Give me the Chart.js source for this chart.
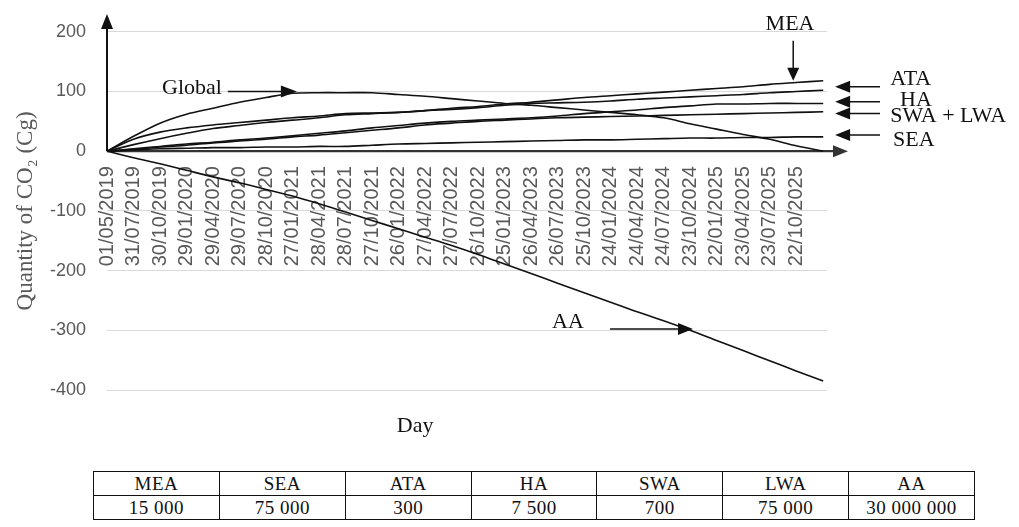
<!DOCTYPE html>
<html>
<head>
<meta charset="utf-8">
<script src="https://cdn.jsdelivr.net/npm/chart.js@4"></script>
<style>
  body { margin: 0; background: #fff; }
  #wrap { position: relative; width: 1019px; height: 527px; }
  #chartBox { position: absolute; left: 0; top: 0; width: 1019px; height: 460px; }
  #tbl {
    position: absolute; left: 93px; top: 471px; width: 882px;
    border-collapse: collapse; font-family: "Liberation Serif", serif;
    font-size: 19px; color: #111;
  }
  #tbl td {
    border: 1px solid #111; text-align: center; height: 23px;
    padding: 0; width: 126px; letter-spacing: 0.5px;
  }
</style>
</head>
<body>
<div id="wrap">
  <div id="chartBox"><canvas id="co2Chart"></canvas></div>
  <table id="tbl"><tr id="rowNames"></tr><tr id="rowLoads"></tr></table>
</div>
<script>
// 目盛りの日付ラベル（91日ごと）
const dateLabels = [
  '01/05/2019', '31/07/2019', '30/10/2019', '29/01/2020', '29/04/2020', '29/07/2020',
  '28/10/2020', '27/01/2021', '28/04/2021', '28/07/2021', '27/10/2021', '26/01/2022',
  '27/04/2022', '27/07/2022', '26/10/2022', '25/01/2023', '26/04/2023', '26/07/2023',
  '25/10/2023', '24/01/2024', '24/04/2024', '24/07/2024', '23/10/2024', '22/01/2025',
  '23/04/2025', '23/07/2025', '22/10/2025'
];

// 01/05/2019からの日数（最後の点は系列の終わり）
const sampleDays = [0, 91, 182, 273, 364, 455, 546, 637, 728, 819, 910, 1001, 1092, 1183,
  1274, 1365, 1456, 1547, 1638, 1729, 1820, 1911, 2002, 2093, 2184, 2275, 2366, 2459];

// CO2量 (Cg)
const globalValues = [0, 25, 47, 62, 72, 82, 90, 97, 98, 98, 98, 95, 92, 88,
  84, 80, 77, 73, 69, 65, 61, 56, 46, 37, 28, 20, 9, 0];
const meaValues = [0, 20, 32, 39, 44, 48, 52, 56, 59, 63, 64, 65, 68, 72,
  75, 79, 82, 86, 90, 93, 96, 99, 102, 105, 108, 112, 115, 118];
const ataValues = [0, 11, 21, 30, 38, 43, 48, 52, 56, 61, 63, 65, 68, 70,
  73, 77, 80, 81, 82, 84, 87, 89, 91, 93, 95, 98, 100, 102];
const haValues = [0, 4, 8, 12, 15, 19, 22, 26, 30, 34, 39, 43, 47, 50,
  52, 54, 56, 59, 63, 66, 69, 73, 76, 79, 79, 80, 80, 80];
const swaLwaValues = [0, 3, 7, 10, 14, 17, 20, 24, 27, 31, 35, 39, 44, 47,
  50, 52, 54, 56, 57, 58, 59, 60, 61, 62, 63, 64, 65, 66];
const seaValues = [0, 2, 4, 5, 6, 6, 7, 7, 8, 8, 10, 12, 13, 14,
  15, 16, 17, 18, 19, 19, 20, 21, 22, 22, 23, 23, 24, 24];
const aaValues = [0, -11, -21, -32, -43, -53, -64, -75, -88, -102, -116, -130, -144, -158,
  -173, -189, -205, -221, -237, -253, -269, -284, -300, -317, -334, -351, -368, -385];

// 下の表
const groupNames = ['MEA', 'SEA', 'ATA', 'HA', 'SWA', 'LWA', 'AA'];
const groupLoads = ['15 000', '75 000', '300', '7 500', '700', '75 000', '30 000 000'];

const yTicks = [200, 100, 0, -100, -200, -300, -400];
const tickDays = sampleDays.slice(0, dateLabels.length);

// 注記（データ座標）
const sideLabels = [
  { text: 'ATA', x: 2689, y: 120, arrowY: 108 },
  { text: 'HA', x: 2723, y: 85, arrowY: 83 },
  { text: 'SWA + LWA', x: 2689, y: 58, arrowY: 63 },
  { text: 'SEA', x: 2699, y: 18, arrowY: 27 }
];

function toPoints(values) {
  return values.map((v, i) => ({ x: sampleDays[i], y: v }));
}

function lineSet(label, values) {
  return {
    label: label,
    data: toPoints(values),
    borderColor: '#111',
    borderWidth: 1.6,
    pointRadius: 0,
    fill: false,
    tension: 0.3
  };
}

// 矢印を描く
function drawArrow(ctx, x1, y1, x2, y2, headLen, headHalf, color, width) {
  const ang = Math.atan2(y2 - y1, x2 - x1);
  ctx.save();
  ctx.strokeStyle = color;
  ctx.fillStyle = color;
  ctx.lineWidth = width;
  ctx.beginPath();
  ctx.moveTo(x1, y1);
  ctx.lineTo(x2 - Math.cos(ang) * headLen * 0.8, y2 - Math.sin(ang) * headLen * 0.8);
  ctx.stroke();
  ctx.translate(x2, y2);
  ctx.rotate(ang);
  ctx.beginPath();
  ctx.moveTo(0, 0);
  ctx.lineTo(-headLen, -headHalf);
  ctx.lineTo(-headLen, headHalf);
  ctx.closePath();
  ctx.fill();
  ctx.restore();
}

const notesPlugin = {
  id: 'notes',
  beforeDatasetsDraw(chart) {
    const ctx = chart.ctx;
    const xs = chart.scales.x;
    const ys = chart.scales.y;
    // 軸の矢印
    drawArrow(ctx, xs.getPixelForValue(0), ys.getPixelForValue(0),
      xs.getPixelForValue(2544), ys.getPixelForValue(0), 15, 6, '#333', 2.2);
    drawArrow(ctx, xs.getPixelForValue(0), ys.getPixelForValue(0),
      xs.getPixelForValue(0), ys.getPixelForValue(230), 15, 6, '#111', 2);
  },
  afterDatasetsDraw(chart) {
    const ctx = chart.ctx;
    const xs = chart.scales.x;
    const ys = chart.scales.y;
    const X = (d) => xs.getPixelForValue(d);
    const Y = (v) => ys.getPixelForValue(v);
    ctx.save();
    ctx.font = '22px "Liberation Serif"';
    ctx.fillStyle = '#111';
    ctx.textBaseline = 'middle';

    ctx.textAlign = 'left';
    ctx.fillText('Global', X(189), Y(105));
    drawArrow(ctx, X(415), Y(100), X(652), Y(100), 16, 6, '#111', 1.5);

    ctx.textAlign = 'center';
    ctx.fillText('MEA', X(2345), Y(212));
    drawArrow(ctx, X(2356), Y(185), X(2356), Y(118), 13, 6, '#111', 1.5);

    ctx.textAlign = 'left';
    sideLabels.forEach((s) => {
      ctx.fillText(s.text, X(s.x), Y(s.y));
      drawArrow(ctx, X(2654), Y(s.arrowY), X(2500), Y(s.arrowY), 15, 6, '#111', 1.5);
    });

    ctx.fillText('AA', X(1528), Y(-287));
    drawArrow(ctx, X(1727), Y(-298), X(2012), Y(-298), 15, 6, '#111', 1.5);

    ctx.textAlign = 'center';
    ctx.fillText('Day', X(1058), Y(-460));
    ctx.restore();
  }
};

const ctx = document.getElementById('co2Chart').getContext('2d');
new Chart(ctx, {
  type: 'line',
  data: {
    datasets: [
      lineSet('Global', globalValues),
      lineSet('MEA', meaValues),
      lineSet('ATA', ataValues),
      lineSet('HA', haValues),
      lineSet('SWA + LWA', swaLwaValues),
      lineSet('SEA', seaValues),
      lineSet('AA', aaValues)
    ]
  },
  options: {
    responsive: true,
    maintainAspectRatio: false,
    animation: false,
    layout: { padding: { top: 31, bottom: 70, left: 0, right: 192 } },
    plugins: { legend: { display: false }, tooltip: { enabled: false } },
    scales: {
      x: {
        type: 'linear',
        min: 0,
        max: 2472,
        position: { y: 0 },
        afterBuildTicks: (scale) => { scale.ticks = tickDays.map((v) => ({ value: v })); },
        grid: { display: false, drawTicks: false },
        border: { display: false },
        ticks: {
          autoSkip: false,
          maxRotation: 90,
          minRotation: 90,
          padding: 15,
          color: '#595959',
          font: { family: '"Liberation Sans"', size: 20 },
          callback: (value) => {
            const i = tickDays.indexOf(value);
            return i >= 0 ? dateLabels[i] : '';
          }
        }
      },
      y: {
        min: -400,
        max: 200,
        afterBuildTicks: (scale) => { scale.ticks = yTicks.map((v) => ({ value: v })); },
        afterFit: (scale) => { scale.width = 107; },
        grid: { color: '#d9d9d9', drawTicks: false },
        border: { display: false },
        ticks: {
          padding: 21,
          color: '#595959',
          font: { family: '"Liberation Sans"', size: 18 }
        },
        title: {
          display: true,
          text: 'Quantity of CO₂ (Cg)',
          color: '#595959',
          font: { family: '"Liberation Serif"', size: 23 },
          padding: { top: 12, bottom: 0 }
        }
      }
    }
  },
  plugins: [notesPlugin]
});

// 表を作る
const rowNames = document.getElementById('rowNames');
const rowLoads = document.getElementById('rowLoads');
groupNames.forEach((n, i) => {
  const a = document.createElement('td');
  a.textContent = n;
  rowNames.appendChild(a);
  const b = document.createElement('td');
  b.textContent = groupLoads[i];
  rowLoads.appendChild(b);
});
</script>
</body>
</html>
